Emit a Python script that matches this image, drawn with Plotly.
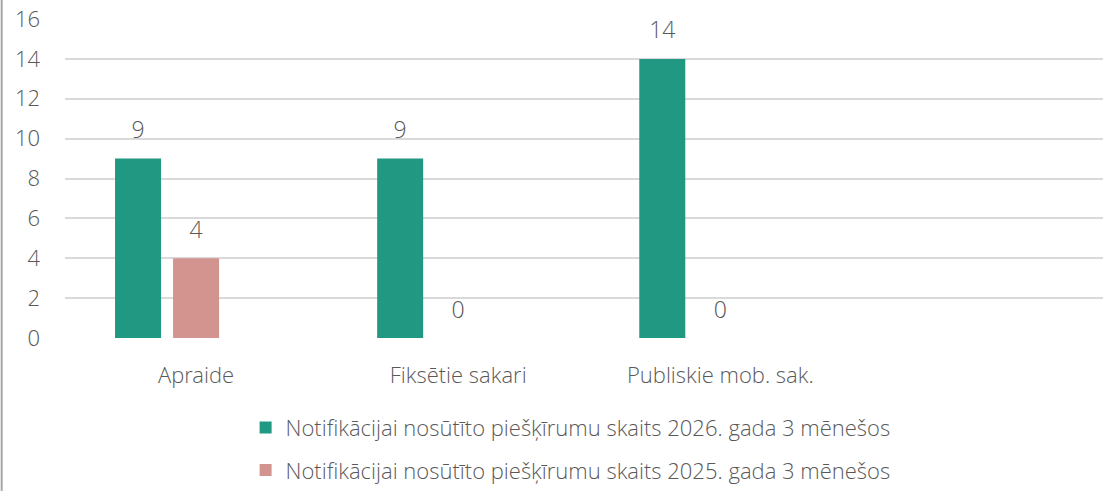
import plotly.graph_objects as go

categories = ["Apraide", "Fiksētie sakari", "Publiskie mob. sak.", " "]
series_2026 = [9, 9, 14, None]
series_2025 = [4, 0, 0, None]
series_blank = [None, None, None, None]
name_2026 = "Notifikācijai nosūtīto piešķīrumu skaits 2026. gada 3 mēnešos"
name_2025 = "Notifikācijai nosūtīto piešķīrumu skaits 2025. gada 3 mēnešos"

font_family = "Open Sans Light, Open Sans, Segoe UI, sans-serif"
grey = "#595959"

fig = go.Figure()
fig.add_trace(go.Bar(x=categories, y=series_2026, name=name_2026,
                     marker_color="#209882", legendgroup="a", offsetgroup="a"))
fig.add_trace(go.Bar(x=categories, y=series_2025, name=name_2025,
                     marker_color="#D3948F", legendgroup="b", offsetgroup="b"))
# empty third series keeps the bars off-centre like the original
fig.add_trace(go.Bar(x=categories, y=series_blank, showlegend=False,
                     marker_color="rgba(0,0,0,0)", hoverinfo="skip",
                     offsetgroup="c"))
fig.update_traces(marker_line_width=0, selector=dict(type="bar"))

# value labels, grouped the same way as the bars
# (invisible marker just pushes the text up a bit)
for vals, grp in [(series_2026, "a"), (series_2025, "b"), (series_blank, "c")]:
    fig.add_trace(go.Scatter(x=categories, y=vals, mode="markers+text",
                             text=vals, textposition="top center",
                             marker=dict(size=22, color="rgba(0,0,0,0)"),
                             textfont=dict(size=23, color=grey),
                             offsetgroup=grp, showlegend=False,
                             hoverinfo="skip", cliponaxis=False))

fig.update_layout(
    width=1103, height=491,
    margin=dict(l=65, r=0, t=19, b=153, autoexpand=False),
    paper_bgcolor="white", plot_bgcolor="white",
    font=dict(family=font_family, color=grey, weight=300),
    barmode="group", bargap=0.336, bargroupgap=0.207,
    scattermode="group", scattergap=0.336,
    legend=dict(orientation="v", x=0.174, xanchor="left", y=-0.215,
                yanchor="top", font=dict(size=22, color=grey),
                traceorder="grouped", tracegroupgap=11),
    showlegend=True,
    shapes=[dict(type="line", xref="paper", yref="paper",
                 x0=-0.061, x1=-0.061, y0=-0.5, y1=1.1,
                 line=dict(color="#A6A6A6", width=2))],
)
fig.update_xaxes(range=[-0.5, 3.46], showgrid=False, showline=False,
                 ticks="", tickfont=dict(size=22, color=grey),
                 ticklabelstandoff=22, automargin=False)
fig.update_yaxes(range=[0, 16], dtick=2, showgrid=True, gridcolor="#D9D9D9",
                 gridwidth=1.5, zeroline=False, showline=False,
                 tickfont=dict(size=22, color=grey), ticklabelstandoff=24,
                 automargin=False)

fig.write_html("out.html", config={"displayModeBar": False},
               post_script="document.body.style.margin='0';")
